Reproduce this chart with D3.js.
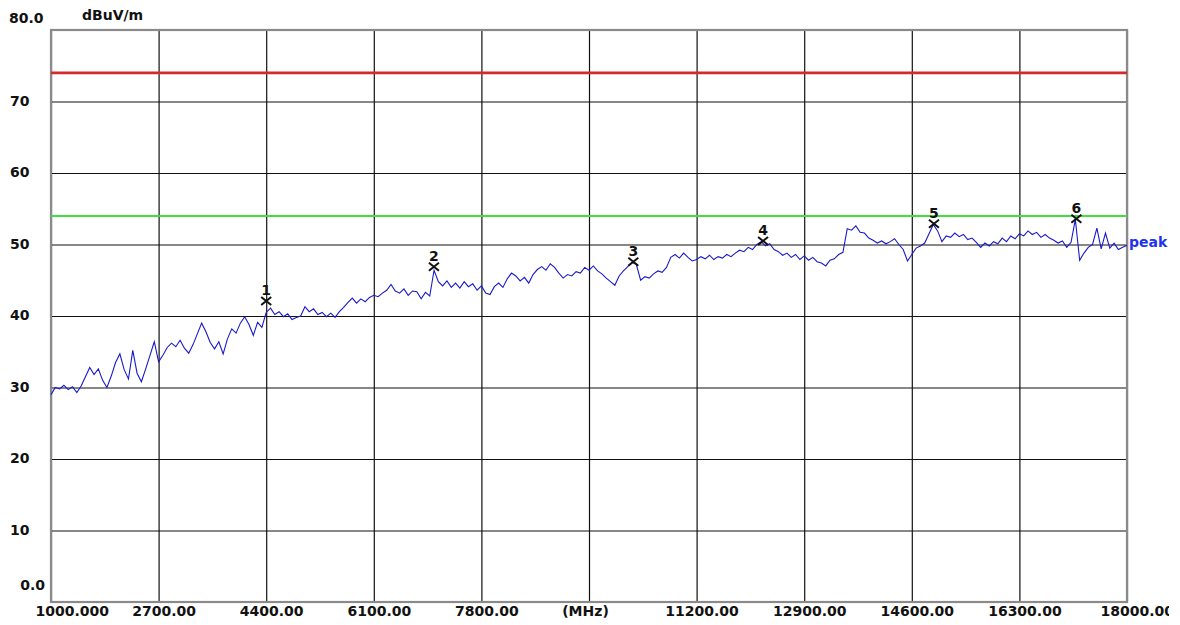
<!DOCTYPE html>
<html>
<head>
<meta charset="utf-8">
<script src="https://cdn.jsdelivr.net/npm/d3@7"></script>
<style>
  html, body { margin: 0; padding: 0; background: #fff; }
  svg { display: block; }
  text { font-family: "DejaVu Sans", "Liberation Sans", Arial, sans-serif; font-weight: bold; }
</style>
</head>
<body>
<svg id="chart" width="1180" height="625"></svg>
<script>
// ---------- data ----------
const xTicks = [1000, 2700, 4400, 6100, 7800, 9500, 11200, 12900, 14600, 16300, 18000];
const xTickLabels = ["1000.000", "2700.00", "4400.00", "6100.00", "7800.00", "(MHz)", "11200.00", "12900.00", "14600.00", "16300.00", "18000.00"];
const yTicks = [0, 10, 20, 30, 40, 50, 60, 70, 80];
const yTickLabels = ["0.0", "10", "20", "30", "40", "50", "60", "70", "80.0"];
const yUnit = "dBuV/m";

const limitLevels = [74, 54];            // red, green
const traceName = "peak";

const sweepStart = 1000;                 // MHz
const sweepStep = 68;                    // MHz per sample
const peakLevels = [
  29.0, 30.0, 29.8, 30.3, 29.7, 30.1, 29.3, 30.2, 31.5, 32.8,
  31.8, 32.6, 31.0, 30.0, 31.6, 33.5, 34.7, 32.5, 31.2, 35.2,
  32.0, 30.8, 32.6, 34.5, 36.4, 33.6, 34.5, 35.6, 36.2, 35.7,
  36.6, 35.5, 34.8, 36.0, 37.5, 39.0, 37.8, 36.3, 35.4, 36.4,
  34.7, 36.8, 38.2, 37.6, 39.0, 39.9, 38.8, 37.3, 39.1, 38.4,
  40.5, 41.1, 40.2, 40.6, 39.9, 40.3, 39.5, 39.8, 40.0, 41.3,
  40.6, 41.0, 40.2, 40.5, 39.9, 40.4, 39.8, 40.6, 41.2, 41.9,
  42.5, 41.8, 42.4, 42.0, 42.6, 42.9, 42.7, 43.2, 43.6, 44.4,
  43.5, 43.2, 43.8, 42.9, 43.5, 43.4, 42.4, 43.3, 42.8, 46.4,
  44.8, 44.2, 44.9, 44.0, 44.6, 43.9, 44.8, 44.1, 44.5, 43.6,
  44.2, 43.2, 43.0, 44.1, 44.6, 44.0, 45.2, 46.0, 45.6, 44.9,
  45.4, 44.6, 45.8, 46.5, 46.9, 46.4, 47.3, 46.8, 46.0, 45.3,
  45.8, 45.6, 46.2, 46.0, 46.8, 46.4, 47.0, 46.3, 45.9, 45.3,
  44.8, 44.3, 45.6, 46.3, 46.9, 47.5, 47.2, 45.0, 45.5, 45.3,
  45.9, 46.3, 46.1, 46.8, 48.2, 48.6, 48.1, 48.8, 48.2, 47.7,
  47.9, 48.3, 48.0, 48.5, 47.9, 48.3, 48.1, 48.6, 48.3, 48.8,
  49.2, 49.0, 49.6, 49.3, 50.0, 50.4, 49.8, 50.1, 49.3, 49.0,
  48.5, 48.8, 48.2, 48.6, 47.9, 48.4, 47.8, 48.2, 47.6, 47.4,
  47.0, 47.8, 48.0, 48.6, 48.9, 52.2, 52.0, 52.6, 51.7, 51.6,
  50.9, 50.6, 50.2, 50.5, 50.1, 50.4, 50.8, 50.0, 49.3, 47.7,
  48.6, 49.5, 49.8, 50.2, 51.5, 52.8, 51.9, 50.4, 51.2, 51.0,
  51.6, 51.1, 51.4, 50.7, 50.9, 50.3, 49.6, 50.2, 49.8, 50.4,
  50.1, 50.9, 50.4, 51.2, 50.8, 51.5, 51.2, 51.9, 51.4, 51.7,
  51.0, 51.4, 50.9, 50.6, 50.2, 50.5, 49.6, 50.3, 53.5, 47.8,
  48.8, 49.6, 50.0, 52.3, 49.4, 51.6, 49.5, 50.2, 49.3, 49.6,
  49.9
];

const markerIds = ["1", "2", "3", "4", "5", "6"];
const markerFreqs = [4400, 7050, 10200, 12250, 14950, 17200];
const markerLevels = [42.1, 46.9, 47.6, 50.5, 52.9, 53.6];

// ---------- layout ----------
const svg = d3.select("#chart");
const L = 51, R = 1127, T = 30, B = 602;

const x = d3.scaleLinear().domain([1000, 18000]).range([L, R]);
const y = d3.scaleLinear().domain([0, 80]).range([B, T]);

svg.append("defs").append("clipPath").attr("id", "pageclip")
  .append("rect").attr("x", 0).attr("y", 0).attr("width", 1169).attr("height", 625);

const root = svg.append("g").attr("clip-path", "url(#pageclip)");

// vertical grid + x labels
const xAxis = d3.axisBottom(x)
  .tickValues(xTicks)
  .tickSize(-(B - T))
  .tickPadding(0)
  .tickFormat((d, i) => xTickLabels[i]);
const gx = root.append("g").attr("transform", `translate(0,${B})`).call(xAxis);
gx.select(".domain").remove();
gx.selectAll(".tick line").attr("stroke", "#111").attr("stroke-width", 1.2);
gx.selectAll(".tick text")
  .attr("fill", "#111")
  .style("font-size", "14px")
  .attr("y", 14)
  .attr("dy", 0)
  .each(function(d, i) {
    const t = d3.select(this);
    if (i === 0) { t.attr("text-anchor", "start").attr("x", 35 - x(d)); }
    else if (i === xTicks.length - 1) { t.attr("text-anchor", "start").attr("x", 1100 - x(d)); }
    else if (xTickLabels[i] === "(MHz)") { t.attr("x", -4); }
    else { t.attr("x", 5); }
  });

// horizontal grid + y labels
const yAxis = d3.axisLeft(y)
  .tickValues(yTicks)
  .tickSize(-(R - L))
  .tickPadding(0)
  .tickFormat((d, i) => yTickLabels[i]);
const gy = root.append("g").attr("transform", `translate(${L},0)`).call(yAxis);
gy.select(".domain").remove();
gy.selectAll(".tick line").attr("stroke", "#111").attr("stroke-width", 1.2);
gy.selectAll(".tick text")
  .attr("fill", "#111")
  .style("font-size", "14px")
  .attr("dy", "0.35em")
  .each(function(d, i) {
    const t = d3.select(this);
    if (d === 0) { t.attr("text-anchor", "end").attr("x", 45 - L).attr("y", -17); }
    else if (d === 80) { t.attr("text-anchor", "start").attr("x", 9 - L).attr("y", -12); }
    else { t.attr("text-anchor", "start").attr("x", 10 - L).attr("y", -1); }
  });

// unit label
root.append("text").attr("x", 82).attr("y", 20)
  .attr("fill", "#111").style("font-size", "14px").text(yUnit);

// frame
root.append("rect")
  .attr("x", L).attr("y", T).attr("width", R - L).attr("height", B - T)
  .attr("fill", "none").attr("stroke", "#8a8a8a").attr("stroke-width", 2.2);

// limit lines
const limitColors = ["#d42a2a", "#3ee03e"];
root.selectAll("line.limit").data(limitLevels).enter().append("line")
  .attr("class", "limit")
  .attr("x1", L).attr("x2", R)
  .attr("y1", d => y(d)).attr("y2", d => y(d))
  .attr("stroke", (d, i) => limitColors[i])
  .attr("stroke-width", (d, i) => i === 0 ? 2.6 : 2);

// trace
const line = d3.line()
  .x((d, i) => x(sweepStart + i * sweepStep))
  .y(d => y(d));
root.append("path").datum(peakLevels)
  .attr("d", line)
  .attr("fill", "none")
  .attr("stroke", "#1a1acc")
  .attr("stroke-width", 1.1);

root.append("text")
  .attr("x", R + 2).attr("y", y(peakLevels[peakLevels.length - 1]) + 2)
  .attr("fill", "#2233ee").style("font-size", "14px").text(traceName);

// markers
const mk = root.selectAll("g.marker").data(markerIds).enter().append("g")
  .attr("class", "marker")
  .attr("transform", (d, i) => `translate(${x(markerFreqs[i])},${y(markerLevels[i])})`);
mk.append("path")
  .attr("d", "M-5,-4L5,4M-5,4L5,-4")
  .attr("stroke", "#111").attr("stroke-width", 2).attr("fill", "none");
mk.append("text")
  .attr("x", 0).attr("y", -6)
  .attr("text-anchor", "middle")
  .attr("fill", "#111").style("font-size", "14px")
  .text(d => d);
</script>
</body>
</html>
